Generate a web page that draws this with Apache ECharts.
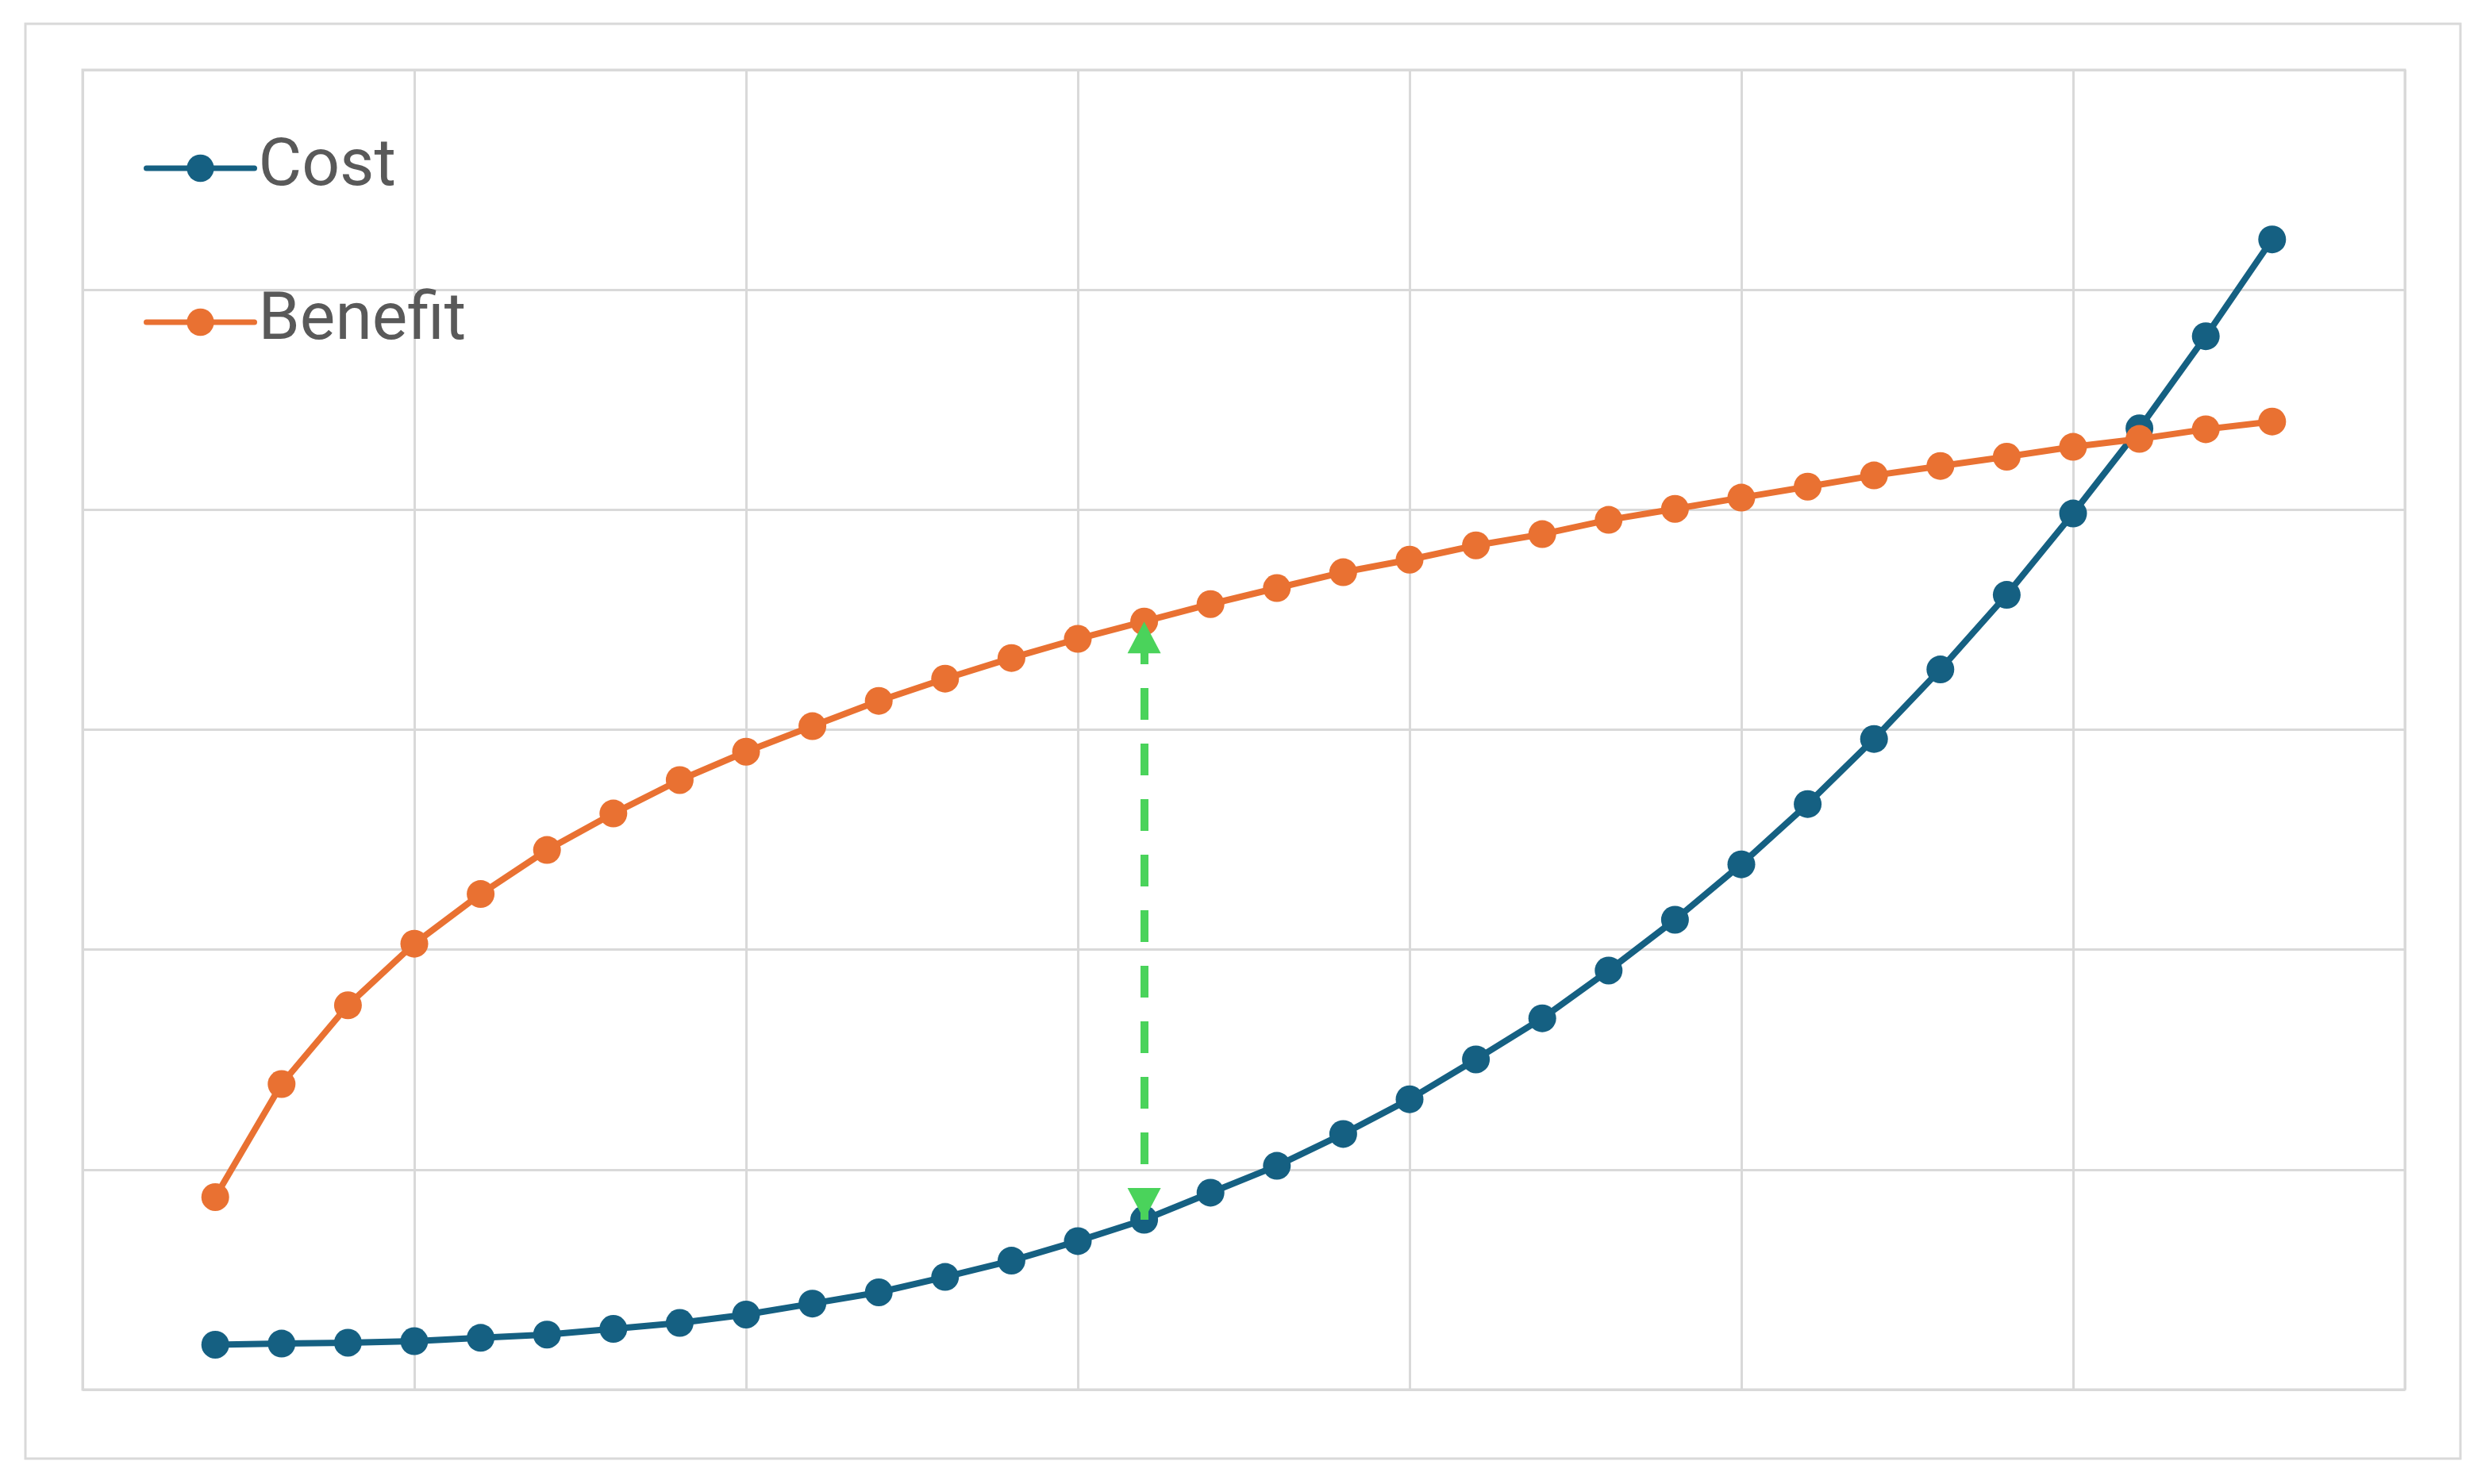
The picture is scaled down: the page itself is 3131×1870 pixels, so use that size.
<!DOCTYPE html>
<html>
<head>
<meta charset="utf-8">
<script src="https://cdn.jsdelivr.net/npm/echarts@6/dist/echarts.min.js"></script>
<style>
  html, body { margin: 0; padding: 0; background: #ffffff; }
  #chart { width: 3131px; height: 1870px; }
</style>
</head>
<body>
<div id="chart"></div>
<script>
// ---- data ----
const xValues = [2, 3, 4, 5, 6, 7, 8, 9, 10, 11, 12, 13, 14, 15, 16, 17,
                 18, 19, 20, 21, 22, 23, 24, 25, 26, 27, 28, 29, 30, 31, 32, 33];
const costValues = [0.204, 0.209, 0.213, 0.220, 0.235, 0.250, 0.276, 0.303, 0.341, 0.391, 0.442, 0.512,
                    0.586, 0.675, 0.772, 0.895, 1.017, 1.162, 1.320, 1.501, 1.688, 1.905, 2.136, 2.388,
                    2.662, 2.958, 3.274, 3.613, 3.983, 4.370, 4.789, 5.229];
const benefitValues = [0.875, 1.389, 1.747, 2.027, 2.253, 2.453, 2.619, 2.771, 2.900, 3.016, 3.131, 3.232,
                       3.326, 3.413, 3.492, 3.571, 3.644, 3.716, 3.773, 3.838, 3.889, 3.954, 4.004, 4.055,
                       4.105, 4.156, 4.199, 4.241, 4.286, 4.322, 4.366, 4.401];
const seriesNames = ['Cost', 'Benefit'];
const gapX = 16;           // x position of the highlighted gap
const xMin = 0, xMax = 35, xStep = 5;
const yMin = 0, yMax = 6, yStep = 1;

// ---- build ----
const costData = xValues.map((x, i) => [x, costValues[i]]);
const benefitData = xValues.map((x, i) => [x, benefitValues[i]]);
const gapIdx = xValues.indexOf(gapX);

const COST = '#156082', BENEFIT = '#E97132', GREEN = '#4AD35B', GRID = '#d9d9d9', TEXT = '#595959';

const chart = echarts.init(document.getElementById('chart'), null, { renderer: 'canvas' });
chart.setOption({
  animation: false,
  backgroundColor: '#ffffff',
  graphic: [{
    type: 'rect',
    shape: { x: 32, y: 30, width: 3068, height: 1808 },
    style: { fill: 'none', stroke: GRID, lineWidth: 3 },
    z: -1
  }],
  grid: {
    left: 104, top: 88, width: 2926, height: 1663,
    show: true, borderColor: GRID, borderWidth: 3, backgroundColor: 'transparent'
  },
  legend: {
    orient: 'vertical',
    left: 176, top: 155,
    itemWidth: 136, itemHeight: 43, itemGap: 90,
    lineStyle: { width: 7, cap: 'round' },
    textStyle: { fontFamily: 'Roboto', fontSize: 84, color: TEXT, lineHeight: 104, padding: [0, 0, 0, 0] },
    data: seriesNames
  },
  xAxis: {
    type: 'value', min: xMin, max: xMax, interval: xStep,
    axisLabel: { show: false }, axisTick: { show: false }, axisLine: { show: false },
    splitLine: { show: true, lineStyle: { color: GRID, width: 3 } }
  },
  yAxis: {
    type: 'value', min: yMin, max: yMax, interval: yStep,
    axisLabel: { show: false }, axisTick: { show: false }, axisLine: { show: false },
    splitLine: { show: true, lineStyle: { color: GRID, width: 3 } }
  },
  series: [
    {
      name: seriesNames[0], type: 'line', data: costData,
      symbol: 'circle', symbolSize: 35, showSymbol: true,
      lineStyle: { color: COST, width: 8 }, itemStyle: { color: COST },
      z: 3,
      markLine: {
        silent: true,
        symbol: ['triangle', 'triangle'],
        symbolSize: [42, 40],
        symbolOffset: [[0, 20], [0, 20]],
        label: { show: false },
        lineStyle: { color: GREEN, width: 10, type: [40, 30] },
        data: [[
          { coord: [gapX, costValues[gapIdx]] },
          { coord: [gapX, benefitValues[gapIdx]] }
        ]],
        z: 10
      }
    },
    {
      name: seriesNames[1], type: 'line', data: benefitData,
      symbol: 'circle', symbolSize: 35, showSymbol: true,
      lineStyle: { color: BENEFIT, width: 8 }, itemStyle: { color: BENEFIT },
      z: 4
    }
  ]
});
</script>
</body>
</html>
